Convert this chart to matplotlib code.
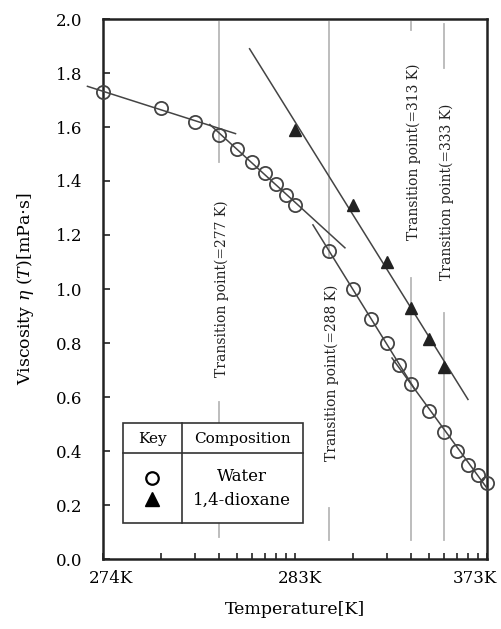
import numpy as np
import matplotlib
matplotlib.use('Agg')
import matplotlib.pyplot as plt
import matplotlib.transforms as mtransforms
from matplotlib.patches import Rectangle
from matplotlib.lines import Line2D

plt.rcParams['font.family'] = ['DejaVu Serif']
plt.rcParams['mathtext.fontset'] = 'dejavuserif'

# water viscosity [mPa s]
water_T = [274, 275, 276, 277, 278, 279, 280, 281, 282, 283,
           288, 293, 298, 303, 308, 313, 323, 333, 343, 353, 363, 373]
water_eta = [1.73, 1.67, 1.62, 1.57, 1.52, 1.47, 1.43, 1.39, 1.35, 1.31,
             1.14, 1.00, 0.89, 0.80, 0.72, 0.65, 0.55, 0.47, 0.40, 0.35, 0.31, 0.28]

# 1,4-dioxane viscosity [mPa s]
diox_T = [283, 293, 303, 313, 323, 333]
diox_eta = [1.59, 1.31, 1.10, 0.93, 0.815, 0.71]

transition_T = [277, 288, 313, 333]

# (points used for the fit, range drawn) in kelvin
water_fits = [((274, 276), (273.83, 277.9)),
              ((277, 283), (276.6, 291.2)),
              ((288, 313), (285.4, 315.0)),
              ((308, 373), (305.0, 373.0))]
diox_fit = ((283, 333), (278.8, 352.6))

xticks_T = [274, 283, 373]
xtick_labels = ['274K', '283K', '373K']


def lx(T):
    return np.asarray(T, dtype=float) - 273.0


fig = plt.figure(figsize=(5.01, 6.29), dpi=100)
ax = fig.add_axes([103 / 501, 70 / 629, 384 / 501, 540 / 629])
ax.set_xscale('log')
ax.set_xlim(1, 100)
ax.set_ylim(0, 2.0)

wT = np.array(water_T)
wE = np.array(water_eta)
dT = np.array(diox_T)
dE = np.array(diox_eta)

# fitted straight lines in log(T-273)
for (t0, t1), (r0, r1) in water_fits:
    m = (wT >= t0) & (wT <= t1)
    k = np.polyfit(np.log10(lx(wT[m])), wE[m], 1)
    xs = np.array([r0, r1])
    ax.plot(lx(xs), np.polyval(k, np.log10(lx(xs))), color='#444444', lw=1.1,
            zorder=3, clip_on=False)
m = (dT >= diox_fit[0][0]) & (dT <= diox_fit[0][1])
k = np.polyfit(np.log10(lx(dT[m])), dE[m], 1)
xs = np.array(diox_fit[1])
ax.plot(lx(xs), np.polyval(k, np.log10(lx(xs))), color='#444444', lw=1.1, zorder=3)

ax.plot(lx(wT), wE, 'o', ms=9.5, mfc='none', mec='#444444', mew=1.3, zorder=4,
        clip_on=False)
ax.plot(lx(dT), dE, '^', ms=9, color='#222222', zorder=4)

# transition markers: vertical guides broken around their labels
gray = '#b8b8b8'
segments = {277: [(1.99, 1.47), (0.58, 0.08)],
            288: [(1.99, 1.12), (0.19, 0.07)],
            313: [(1.99, 1.96), (1.04, 0.07)],
            333: [(1.98, 1.82), (0.91, 0.07)]}
label_y = {277: 1.00, 288: 0.69, 313: 1.51, 333: 1.36}
shift = mtransforms.ScaledTranslation(2 / 72, 0, fig.dpi_scale_trans)
for T in transition_T:
    for y0, y1 in segments[T]:
        ax.plot([lx(T), lx(T)], [y0, y1], color=gray, lw=1.3, zorder=1)
    ax.text(lx(T), label_y[T], 'Transition point(=%d K)' % T,
            rotation=90, ha='center', va='center', fontsize=10, color='#222222',
            transform=ax.transData + shift)

ax.set_xticks(lx(xticks_T))
ax.set_xticklabels(xtick_labels)
minor = [t for t in range(275, 373) if t not in xticks_T and
         (t - 273 < 10 or (t - 273) % 10 == 0)]
ax.set_xticks(lx(minor), minor=True)
ax.xaxis.set_minor_formatter(matplotlib.ticker.NullFormatter())
ax.set_yticks(np.arange(0, 2.01, 0.2))
ax.set_yticklabels(['%.1f' % v for v in np.arange(0, 2.01, 0.2)])
ax.tick_params(axis='both', which='both', direction='in', labelsize=12,
               color='#222222', top=False, right=False)
ax.tick_params(axis='x', which='both', length=4, width=1.2, pad=8)
ax.tick_params(axis='y', length=5, width=1.2, pad=15)
for s in ax.spines.values():
    s.set_linewidth(1.8)
    s.set_color('#222222')

# nudge the x tick labels
for lab, dx in zip(ax.get_xticklabels(), [8, 5, -12]):
    lab.set_transform(lab.get_transform() +
                      mtransforms.ScaledTranslation(dx / 100, 0, fig.dpi_scale_trans))

ax.set_xlabel('Temperature[K]', fontsize=12.5, labelpad=10)
ax.set_ylabel(r'Viscosity $\eta$ $(T)$[mPa$\cdot$s]', fontsize=12.5, labelpad=14)

# key table
tr = ax.transAxes
x0, x1, y0, y1 = 0.052, 0.521, 0.0667, 0.252
ax.add_patch(Rectangle((x0, y0), x1 - x0, y1 - y0, transform=tr, fc='white',
                       ec='#333333', lw=1.2, zorder=5))
ax.add_line(Line2D([x0, x1], [0.196, 0.196], transform=tr, color='#333333', lw=1.2,
                   zorder=6))
ax.add_line(Line2D([0.206, 0.206], [y0, y1], transform=tr, color='#333333', lw=1.2,
                   zorder=6))
ax.text(0.128, 0.222, 'Key', transform=tr, ha='center', va='center', fontsize=11,
        zorder=7)
ax.text(0.362, 0.222, 'Composition', transform=tr, ha='center', va='center',
        fontsize=11, zorder=7)
ax.plot([0.128], [0.150], 'o', transform=tr, ms=9, mfc='none', mec='black', mew=1.6,
        zorder=7)
ax.plot([0.128], [0.111], '^', transform=tr, ms=10, color='black', zorder=7)
ax.text(0.362, 0.152, 'Water', transform=tr, ha='center', va='center', fontsize=12,
        zorder=7)
ax.text(0.362, 0.109, '1,4-dioxane', transform=tr, ha='center', va='center',
        fontsize=12, zorder=7)

fig.savefig('out.png', dpi=100)
